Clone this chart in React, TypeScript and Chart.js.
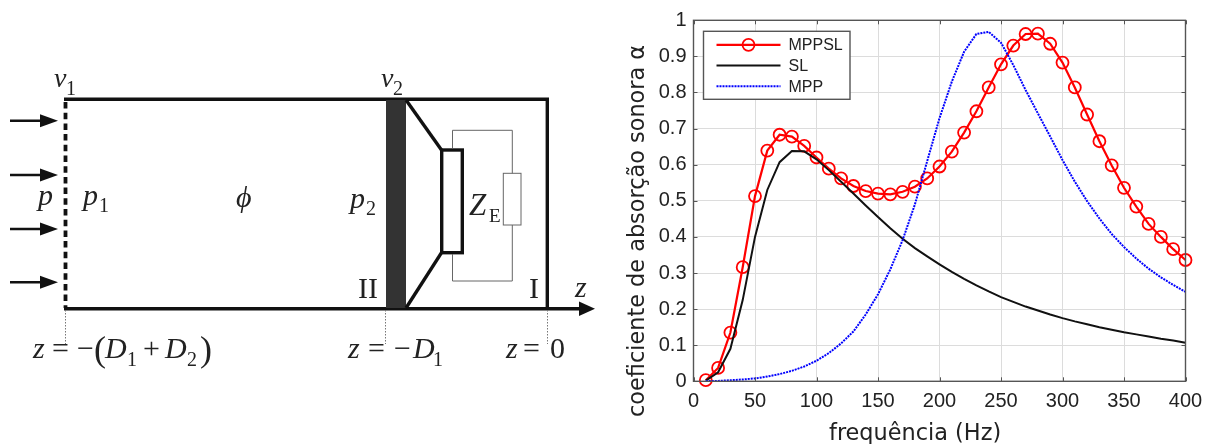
import React, { useEffect, useRef } from "react";
import { Chart, registerables } from "chart.js";

Chart.register(...registerables);

const frequencies = [10,20,30,40,50,60,70,80,90,100,110,120,130,140,150,160,170,180,190,200,210,220,230,240,250,260,270,280,290,300,310,320,330,340,350,360,370,380,390,400];
const mppsl = [0.003,0.037,0.135,0.316,0.513,0.639,0.683,0.678,0.652,0.62,0.589,0.562,0.541,0.527,0.52,0.518,0.525,0.539,0.562,0.595,0.636,0.689,0.748,0.814,0.878,0.93,0.962,0.963,0.935,0.883,0.814,0.739,0.665,0.598,0.536,0.484,0.436,0.4,0.366,0.336];
const sl = [0.002,0.025,0.09,0.225,0.4,0.53,0.607,0.638,0.637,0.615,0.585,0.553,0.52,0.487,0.455,0.424,0.395,0.369,0.346,0.324,0.303,0.284,0.266,0.249,0.233,0.22,0.207,0.196,0.185,0.175,0.166,0.158,0.15,0.143,0.136,0.13,0.124,0.118,0.113,0.107];
const mpp = [0.0005,0.001,0.003,0.005,0.008,0.013,0.02,0.029,0.041,0.057,0.078,0.105,0.138,0.185,0.241,0.31,0.391,0.49,0.61,0.729,0.83,0.913,0.962,0.968,0.938,0.876,0.807,0.742,0.678,0.613,0.553,0.499,0.451,0.408,0.372,0.34,0.312,0.288,0.267,0.248];
const seriesNames = ["MPPSL", "SL", "MPP"];
const xTitle = "frequência (Hz)";
const yTitle = "coeficiente de absorção sonora α";

const AXIS = "#555555";
const TICK_FONT = "Liberation Sans";

const frame = {
  id: "frame",
  afterDatasetsDraw(chart: any) {
    const { ctx, chartArea: a, scales } = chart;
    ctx.save();
    ctx.strokeStyle = AXIS;
    ctx.lineWidth = 1.4;
    ctx.strokeRect(a.left, a.top, a.right - a.left, a.bottom - a.top);
    ctx.lineWidth = 1;
    ctx.beginPath();
    for (const t of scales.x.ticks) {
      const px = Math.round(scales.x.getPixelForValue(t.value)) + 0.5;
      ctx.moveTo(px, a.top); ctx.lineTo(px, a.top + 4);
      ctx.moveTo(px, a.bottom); ctx.lineTo(px, a.bottom - 4);
    }
    for (const t of scales.y.ticks) {
      const py = Math.round(scales.y.getPixelForValue(t.value)) + 0.5;
      ctx.moveTo(a.left, py); ctx.lineTo(a.left + 4, py);
      ctx.moveTo(a.right, py); ctx.lineTo(a.right - 4, py);
    }
    ctx.stroke();

    // axis titles
    ctx.fillStyle = "#222";
    ctx.font = '22.4px "DejaVu Sans"';
    ctx.textBaseline = "alphabetic";
    ctx.textAlign = "left";
    ctx.fillText(xTitle, 829, 440);
    ctx.save();
    ctx.translate(644, 417);
    ctx.rotate(-Math.PI / 2);
    ctx.fillText(yTitle, 0, 0);
    ctx.restore();

    // legend box
    const lx = a.left + 10, ly = a.top + 11, lw = 146.5, lh = 68;
    ctx.fillStyle = "#fff";
    ctx.fillRect(lx, ly, lw, lh);
    ctx.strokeStyle = AXIS;
    ctx.lineWidth = 1.4;
    ctx.strokeRect(lx, ly, lw, lh);
    chart.data.datasets.forEach((ds: any, i: number) => {
      const y = ly + 13.5 + i * 20.7;
      ctx.save();
      ctx.strokeStyle = ds.borderColor;
      ctx.lineWidth = ds.borderWidth;
      ctx.setLineDash(ds.borderDash || []);
      ctx.beginPath();
      ctx.moveTo(lx + 13, y);
      ctx.lineTo(lx + 77, y);
      ctx.stroke();
      ctx.setLineDash([]);
      if (ds.pointRadius > 0) {
        ctx.lineWidth = ds.pointBorderWidth;
        ctx.strokeStyle = ds.pointBorderColor;
        ctx.beginPath();
        ctx.arc(lx + 45, y, ds.pointRadius, 0, Math.PI * 2);
        ctx.stroke();
      }
      ctx.restore();
      ctx.fillStyle = "#222";
      ctx.font = '16px "Liberation Sans"';
      ctx.textBaseline = "middle";
      ctx.textAlign = "left";
      ctx.fillText(ds.label, lx + 85, y + 1);
    });
    ctx.restore();
  },
};

const INK = "#111";
const serif = "Liberation Serif";

function T({ x, y, s = 30, i = true, children }: any) {
  return (
    <text x={x} y={y} fontFamily={serif} fontSize={s} fontStyle={i ? "italic" : "normal"} fill="#222">
      {children}
    </text>
  );
}

function Arrow({ y }: { y: number }) {
  return (
    <g>
      <line x1={10} y1={y} x2={45} y2={y} stroke={INK} strokeWidth={2.4} />
      <polygon points={`40,${y - 6.5} 58,${y} 40,${y + 6.5}`} fill={INK} />
    </g>
  );
}

function Schematic() {
  const thin = { stroke: "#666", strokeWidth: 1, fill: "none" };
  const thick = { stroke: INK, strokeWidth: 3.4, fill: "none" };
  const dots = { stroke: "#777", strokeWidth: 1, strokeDasharray: "1.5 1.5" };
  return (
    <svg width={640} height={444} style={{ position: "absolute", left: 0, top: 0 }}>
      {[120.7, 175, 229, 282.3].map((y) => <Arrow key={y} y={y} />)}
      <line x1={65.5} y1={102} x2={65.5} y2={308} stroke={INK} strokeWidth={3.8} strokeDasharray="6.5 4.2" />
      <line x1={64} y1={99.3} x2={549} y2={99.3} {...thick} />
      <line x1={64} y1={308.7} x2={585} y2={308.7} {...thick} />
      <polygon points={`579,301.5 595,308.7 579,316`} fill={INK} />
      <line x1={547.3} y1={99} x2={547.3} y2={309} {...thick} />
      <rect x={386} y={100} width={20} height={208} fill="#333" />
      <line x1={406} y1={100} x2={441.5} y2={150} {...thick} />
      <line x1={406} y1={308} x2={441.5} y2={252.7} {...thick} />
      <rect x={441.7} y={150} width={20.6} height={102.7} fill="#fff" stroke={INK} strokeWidth={3.4} />
      <polyline points="452.5,148 452.5,130.3 512.3,130.3 512.3,173.3" {...thin} />
      <rect x={503.3} y={173.3} width={17.7} height={51.7} {...thin} />
      <polyline points="512.3,225 512.3,281 452.5,281 452.5,254" {...thin} />
      <line x1={65.5} y1={310} x2={65.5} y2={344} {...dots} />
      <line x1={385.5} y1={310} x2={385.5} y2={344} {...dots} />
      <line x1={547.5} y1={310} x2={547.5} y2={344} {...dots} />

      <T x={54} y={87} s={28}>v</T>
      <T x={66} y={95} s={20} i={false}>1</T>
      <T x={381} y={87} s={28}>v</T>
      <T x={393} y={95} s={20} i={false}>2</T>

      <T x={38} y={205}>p</T>
      <T x={83} y={205}>p</T>
      <T x={99} y={212} s={20} i={false}>1</T>
      <T x={236} y={207}>ϕ</T>
      <T x={350} y={208}>p</T>
      <T x={366} y={215} s={20} i={false}>2</T>
      <T x={469} y={215} s={31}>Z</T>
      <T x={489} y={222} s={19} i={false}>E</T>
      <T x={358} y={298} i={false}>II</T>
      <T x={529} y={298} i={false}>I</T>
      <T x={575} y={297}>z</T>

      <T x={33} y={358}>z</T>
      <T x={52} y={358} i={false}>=</T>
      <T x={77} y={358} i={false}>−</T>
      <T x={94} y={361} s={36} i={false}>(</T>
      <T x={105} y={358}>D</T>
      <T x={127} y={366} s={20} i={false}>1</T>
      <T x={143} y={358} i={false}>+</T>
      <T x={165} y={358}>D</T>
      <T x={187} y={366} s={20} i={false}>2</T>
      <T x={200} y={361} s={36} i={false}>)</T>

      <T x={348} y={358}>z</T>
      <T x={368} y={358} i={false}>=</T>
      <T x={394} y={358} i={false}>−</T>
      <T x={413} y={358}>D</T>
      <T x={433} y={366} s={20} i={false}>1</T>

      <T x={506} y={358}>z</T>
      <T x={523} y={358} i={false}>=</T>
      <T x={550} y={358} i={false}>0</T>
    </svg>
  );
}

export default function App() {
  const ref = useRef<HTMLCanvasElement | null>(null);
  useEffect(() => {
    const toXY = (v: number[]) => v.map((y, i) => ({ x: frequencies[i], y }));
    const chart = new Chart(ref.current as HTMLCanvasElement, {
      type: "line",
      data: {
        datasets: [
          { label: seriesNames[0], data: toXY(mppsl), borderColor: "#ff0000", borderWidth: 2.2, pointRadius: 6, pointBorderWidth: 1.8, pointBorderColor: "#ff0000", pointBackgroundColor: "rgba(0,0,0,0)", clip: false, order: 3, tension: 0 },
          { label: seriesNames[1], data: toXY(sl), borderColor: "#111111", borderWidth: 2, pointRadius: 0, order: 2, tension: 0 },
          { label: seriesNames[2], data: toXY(mpp), borderColor: "#0000ff", borderWidth: 2, borderDash: [2, 1], pointRadius: 0, order: 1, tension: 0 },
        ],
      } as any,
      options: {
        responsive: false,
        animation: false,
        layout: { padding: { top: 20.3, right: 27.5, bottom: 0, left: 0 } },
        plugins: { legend: { display: false }, title: { display: false }, tooltip: { enabled: false } },
        scales: {
          x: {
            type: "linear", min: 0, max: 400,
            ticks: { stepSize: 50, padding: 8, maxRotation: 0, color: "#222", font: { family: TICK_FONT, size: 20 } },
            grid: { color: "#dcdcdc", lineWidth: 1, drawTicks: false },
            border: { display: false },
            afterFit: (s: any) => { s.height = 62.7; },
          },
          y: {
            min: 0, max: 1,
            ticks: { stepSize: 0.1, padding: 7, color: "#222", font: { family: TICK_FONT, size: 20 }, callback: (v: any) => String(Math.round(v * 10) / 10) },
            grid: { color: "#dcdcdc", lineWidth: 1, drawTicks: false },
            border: { display: false },
            afterFit: (s: any) => { s.width = 693.5; },
          },
        },
      } as any,
      plugins: [frame],
    });
    return () => chart.destroy();
  }, []);
  return (
    <div style={{ position: "fixed", left: 0, top: 0, width: 1213, height: 444, background: "#fff", filter: "blur(0.4px)" }}>
      <canvas ref={ref} width={1213} height={444} style={{ position: "absolute", left: 0, top: 0, width: 1213, height: 444 }} />
      <Schematic />
    </div>
  );
}
